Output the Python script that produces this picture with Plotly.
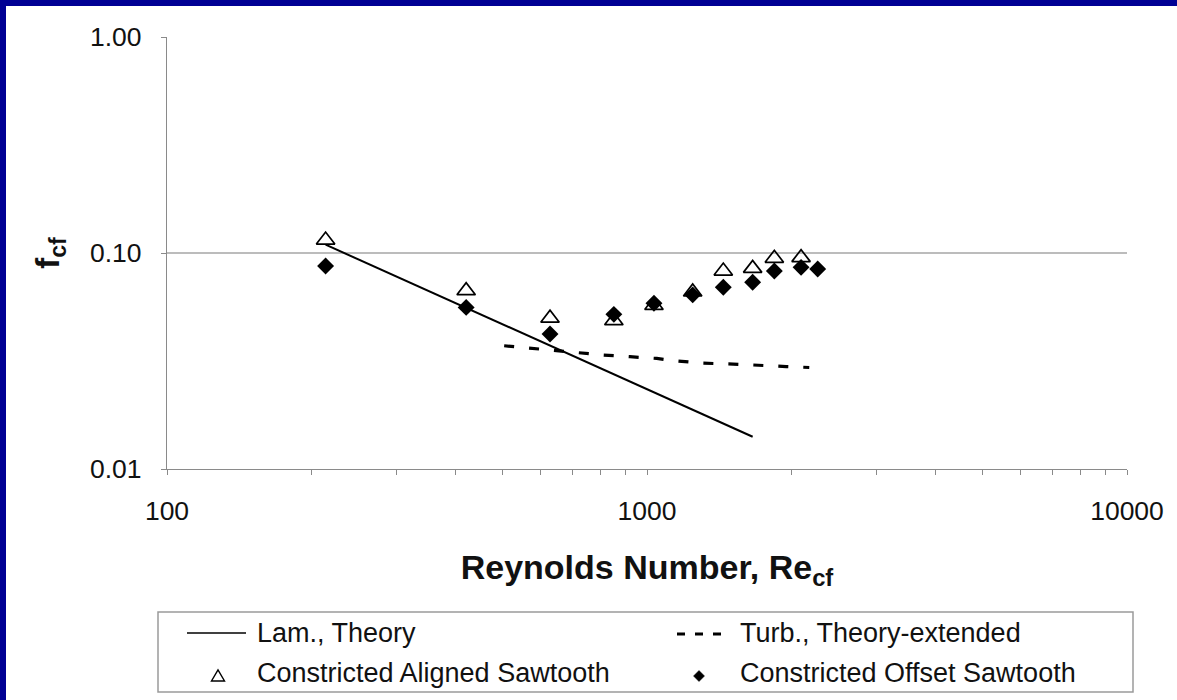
import plotly.graph_objects as go

# ---- data ----
re_lam = [214, 420, 628, 853, 1034, 1245, 1442, 1660]
f_lam = [0.1093, 0.0557, 0.0373, 0.0274, 0.0226, 0.0188, 0.0162, 0.0141]

re_turb = [504, 589, 702, 811, 921, 1048, 1125, 1310, 1512, 1720, 1950, 2178]
f_turb = [0.0372, 0.0360, 0.0346, 0.0337, 0.0331, 0.0325, 0.0318, 0.0309,
          0.0306, 0.0301, 0.0298, 0.0295]

re_aligned = [214, 420, 628, 853, 1034, 1245, 1442, 1660, 1842, 2094]
f_aligned = [0.1148, 0.0669, 0.0499, 0.0486, 0.0572, 0.0660, 0.0825, 0.0849,
             0.0945, 0.0952]

re_offset = [214, 420, 628, 853, 1034, 1245, 1442, 1660, 1842, 2094, 2268]
f_offset = [0.0871, 0.0560, 0.0422, 0.0520, 0.0585, 0.0640, 0.0694, 0.0732,
            0.0825, 0.0858, 0.0843]

legend_names = ["Lam., Theory", "Turb., Theory-extended",
                "Constricted Aligned Sawtooth", "Constricted Offset Sawtooth"]

x_major = [100, 1000, 10000]
x_major_text = ["100", "1000", "10000"]
x_minor = [200, 300, 400, 500, 600, 700, 800, 900,
           2000, 3000, 4000, 5000, 6000, 7000, 8000, 9000]
y_ticks = [0.01, 0.1, 1.0]
y_ticktext = ["0.01", "0.10", "1.00"]

# ---- page geometry (pixels) ----
W, H = 1177, 700
PL, PR, PT, PB = 167, 1127, 37, 469


def px(x):
    return (x - PL) / (PR - PL)


def py(y):
    return (PB - y) / (PB - PT)


FONT = "Liberation Sans, Arial, sans-serif"
AXIS_GRAY = "#8a8a8a"
TEXT = "#111111"

fig = go.Figure()

fig.add_trace(go.Scatter(x=re_lam, y=f_lam, mode="lines", name=legend_names[0],
                         line=dict(color="black", width=2)))
fig.add_trace(go.Scatter(x=re_turb, y=f_turb, mode="lines", name=legend_names[1],
                         line=dict(color="black", width=3.2, dash="10px,15px")))
fig.add_trace(go.Scatter(x=re_aligned, y=f_aligned, mode="markers", name=legend_names[2],
                         marker=dict(symbol="triangle-up-open", size=16, color="black",
                                     line=dict(width=1.7, color="black"))))
fig.add_trace(go.Scatter(x=re_offset, y=f_offset, mode="markers", name=legend_names[3],
                         marker=dict(symbol="diamond", size=13, color="black",
                                     line=dict(width=0))))

shapes = []
# horizontal gridline at 0.10
shapes.append(dict(type="line", xref="paper", yref="y", x0=0, x1=1, y0=0.1, y1=0.1,
                   line=dict(color="#7a7a7a", width=1.2), layer="below"))

# frame strips along the top and left edges of the page
BLUE = "#000094"
shapes.append(dict(type="rect", xref="paper", yref="paper", x0=px(0), x1=px(6),
                   y0=py(H), y1=py(0), fillcolor=BLUE, line=dict(width=0), layer="above"))
shapes.append(dict(type="rect", xref="paper", yref="paper", x0=px(0), x1=px(W),
                   y0=py(6), y1=py(0), fillcolor=BLUE, line=dict(width=0), layer="above"))

# ---- legend box ----
LX0, LX1, LY0, LY1 = 158, 1133, 612, 692
shapes.append(dict(type="rect", xref="paper", yref="paper", x0=px(LX0), x1=px(LX1),
                   y0=py(LY1), y1=py(LY0), line=dict(color="#9a9a9a", width=1.5),
                   fillcolor="white"))
ROW1, ROW2 = 633, 673
COL1_TXT, COL2_TXT = 255, 738
# solid line sample
shapes.append(dict(type="line", xref="paper", yref="paper", x0=px(187), x1=px(246),
                   y0=py(ROW1), y1=py(ROW1), line=dict(color="black", width=1.5)))
# dashed line sample
shapes.append(dict(type="line", xref="paper", yref="paper", x0=px(677), x1=px(731),
                   y0=py(ROW1 + 1), y1=py(ROW1 + 1),
                   line=dict(color="black", width=3.2, dash="8px,10px")))
# triangle sample
shapes.append(dict(type="path", xref="paper", yref="paper", xsizemode="pixel",
                   ysizemode="pixel", xanchor=px(218), yanchor=py(ROW2 + 3),
                   path="M -6.5,-5 L 6.5,-5 L 0,6 Z", line=dict(color="black", width=1.4)))
# diamond sample
shapes.append(dict(type="path", xref="paper", yref="paper", xsizemode="pixel",
                   ysizemode="pixel", xanchor=px(699), yanchor=py(ROW2 + 3),
                   path="M -5.5,0 L 0,5.5 L 5.5,0 L 0,-5.5 Z", fillcolor="black",
                   line=dict(color="black", width=0.5)))

annotations = []
for txt, xx, yy in [(legend_names[0], COL1_TXT, ROW1), (legend_names[1], COL2_TXT, ROW1),
                    (legend_names[2], COL1_TXT, ROW2), (legend_names[3], COL2_TXT, ROW2)]:
    annotations.append(dict(text=txt, xref="paper", yref="paper", x=px(xx), y=py(yy),
                            xanchor="left", yanchor="middle", showarrow=False,
                            font=dict(family=FONT, size=27, color=TEXT)))

fig.update_layout(
    width=W, height=H,
    margin=dict(l=PL, r=W - PR, t=PT, b=H - PB),
    paper_bgcolor="white", plot_bgcolor="white",
    showlegend=False,
    font=dict(family=FONT, color=TEXT),
    shapes=shapes,
    annotations=annotations,
)

fig.update_xaxes(
    type="log", range=[2, 4], showgrid=False, zeroline=False,
    showline=True, linecolor=AXIS_GRAY, linewidth=1.3,
    ticks="outside", ticklen=5, tickcolor=AXIS_GRAY, tickwidth=1.3,
    tickmode="array", tickvals=x_major, ticktext=x_major_text, ticklabelstandoff=13,
    minor=dict(tickmode="array", tickvals=x_minor, ticks="outside", ticklen=5,
               tickcolor=AXIS_GRAY, tickwidth=1.3, showgrid=False),
    tickfont=dict(family=FONT, size=26.5, color=TEXT),
    title=dict(text="<b>Reynolds Number, Re<sub>cf</sub></b>", standoff=30,
               font=dict(family=FONT, size=34, color=TEXT)),
    automargin=False,
)
fig.update_yaxes(
    type="log", range=[-2, 0], showgrid=False, zeroline=False,
    showline=True, linecolor=AXIS_GRAY, linewidth=1.3,
    ticks="outside", ticklen=5, tickcolor=AXIS_GRAY, tickwidth=1.3,
    tickvals=y_ticks, ticktext=y_ticktext, ticklabelstandoff=14,
    tickfont=dict(family=FONT, size=26.5, color=TEXT),
    title=dict(text="<b>f<sub>cf</sub></b>", standoff=20,
               font=dict(family=FONT, size=33, color=TEXT)),
    automargin=False,
)

fig.write_html("out.html")
